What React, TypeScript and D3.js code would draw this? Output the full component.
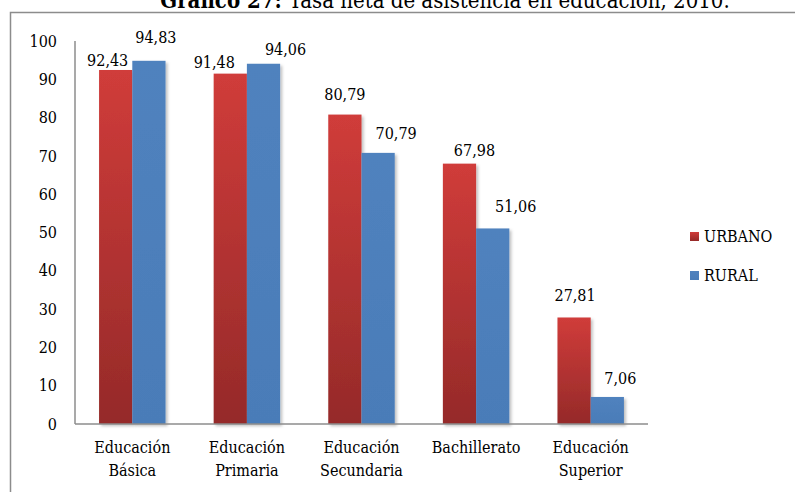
import { useEffect, useRef } from "react";
import * as d3 from "d3";

const categories = [
  "Educación Básica",
  "Educación Primaria",
  "Educación Secundaria",
  "Bachillerato",
  "Educación Superior",
];
const urbano = [92.43, 91.48, 80.79, 67.98, 27.81];
const rural = [94.83, 94.06, 70.79, 51.06, 7.06];
const seriesNames = ["URBANO", "RURAL"];
const yTicks = [0, 10, 20, 30, 40, 50, 60, 70, 80, 90, 100];

// hand-placed label nudges as in the source chart: [dx from bar centre, px above bar top]
const urbanoLabelNudge = [[-8, 4], [-16, 6], [0, 15], [15, 8], [1, 16]];
const ruralLabelNudge = [[7, 18], [22, 9], [18, 14], [23, 16], [13, 13]];

const FONT = "'DejaVu Serif Condensed', 'DejaVu Serif', serif";

const App = () => {
  const svgRef = useRef<SVGSVGElement>(null);

  useEffect(() => {
    if (!svgRef.current) return;
    const svg = d3.select(svgRef.current);
    svg.selectAll("*").remove();

    const width = 795;
    const height = 492;
    const margin = { top: 41, left: 75, right: 147, bottom: 68 };

    const defs = svg.append("defs");
    const redGrad = defs
      .append("linearGradient")
      .attr("id", "gradRed")
      .attr("x1", 0)
      .attr("y1", 0)
      .attr("x2", 0)
      .attr("y2", 1);
    redGrad.append("stop").attr("offset", "0%").attr("stop-color", "#d03c3a");
    redGrad.append("stop").attr("offset", "100%").attr("stop-color", "#952a29");
    const blueGrad = defs
      .append("linearGradient")
      .attr("id", "gradBlue")
      .attr("x1", 0)
      .attr("y1", 0)
      .attr("x2", 0)
      .attr("y2", 1);
    blueGrad.append("stop").attr("offset", "0%").attr("stop-color", "#5082be");
    blueGrad.append("stop").attr("offset", "100%").attr("stop-color", "#4a7cb8");
    const shadow = defs
      .append("filter")
      .attr("id", "shadow")
      .attr("x", "-20%")
      .attr("y", "-5%")
      .attr("width", "150%")
      .attr("height", "120%");
    shadow
      .append("feDropShadow")
      .attr("dx", 2)
      .attr("dy", 2)
      .attr("stdDeviation", 1.5)
      .attr("flood-color", "#000")
      .attr("flood-opacity", 0.25);

    // outer frame
    svg
      .append("rect")
      .attr("x", 10.5)
      .attr("y", 12.5)
      .attr("width", 800)
      .attr("height", 500)
      .attr("fill", "#fff")
      .attr("stroke", "#8c8c8c")
      .attr("stroke-width", 1.5);

    // title (partly cut at top, as in the source)
    const title = svg
      .append("text")
      .attr("x", 445)
      .attr("y", 8)
      .attr("text-anchor", "middle")
      .attr("font-family", FONT)
      .attr("font-size", 22)
      .attr("fill", "#000");
    title.append("tspan").attr("font-weight", "bold").text("Gráfico 27: ");
    title.append("tspan").text("Tasa neta de asistencia en educación, 2010.");

    const x0 = d3
      .scaleBand()
      .domain(categories)
      .range([margin.left, width - margin.right])
      .paddingInner(0.42)
      .paddingOuter(0.21);
    const x1 = d3.scaleBand().domain(seriesNames).range([0, x0.bandwidth()]);
    const y = d3
      .scaleLinear()
      .domain([0, 100])
      .range([height - margin.bottom, margin.top]);

    // y labels
    svg
      .append("g")
      .selectAll("text")
      .data(yTicks)
      .join("text")
      .attr("x", 57)
      .attr("y", (d) => y(d))
      .attr("dy", "0.35em")
      .attr("text-anchor", "end")
      .attr("font-family", FONT)
      .attr("font-size", 16)
      .text((d) => d);

    const rows = categories.map((c, i) => ({
      key: c,
      values: [urbano[i], rural[i]],
      nudges: [urbanoLabelNudge[i], ruralLabelNudge[i]],
    }));
    const fills = ["url(#gradRed)", "url(#gradBlue)"];

    const groups = svg
      .append("g")
      .selectAll("g")
      .data(rows)
      .join("g")
      .attr("transform", (d) => `translate(${x0(d.key)},0)`);

    groups
      .selectAll("rect")
      .data((d) => d.values.map((v, j) => ({ name: seriesNames[j], v, j })))
      .join("rect")
      .attr("x", (d) => x1(d.name)!)
      .attr("y", (d) => y(d.v))
      .attr("width", x1.bandwidth())
      .attr("height", (d) => y(0) - y(d.v))
      .attr("fill", (d) => fills[d.j])
      .attr("filter", "url(#shadow)");

    groups
      .selectAll("text.val")
      .data((d) =>
        d.values.map((v, j) => ({ name: seriesNames[j], v, j, n: d.nudges[j] }))
      )
      .join("text")
      .attr("class", "val")
      .attr("x", (d) => x1(d.name)! + x1.bandwidth() / 2 + d.n[0])
      .attr("y", (d) => y(d.v) - d.n[1])
      .attr("text-anchor", "middle")
      .attr("font-family", FONT)
      .attr("font-size", 16)
      .text((d) => d3.format(".2f")(d.v).replace(".", ","));

    // axes lines
    svg
      .append("line")
      .attr("x1", margin.left)
      .attr("x2", margin.left)
      .attr("y1", margin.top)
      .attr("y2", y(0))
      .attr("stroke", "#8c8c8c")
      .attr("stroke-width", 1.5);
    svg
      .append("line")
      .attr("x1", margin.left)
      .attr("x2", width - margin.right)
      .attr("y1", y(0))
      .attr("y2", y(0))
      .attr("stroke", "#8c8c8c")
      .attr("stroke-width", 1.5);

    // x labels, one word per line
    const xl = svg
      .append("g")
      .selectAll("text")
      .data(categories)
      .join("text")
      .attr("x", (d) => x0(d)! + x0.bandwidth() / 2)
      .attr("y", 453)
      .attr("text-anchor", "middle")
      .attr("font-family", FONT)
      .attr("font-size", 16);
    xl.each(function (d) {
      const words = d.split(" ");
      const t = d3.select(this);
      words.forEach((w, i) => {
        t.append("tspan")
          .attr("x", x0(d)! + x0.bandwidth() / 2)
          .attr("dy", i === 0 ? 0 : 23)
          .text(w);
      });
    });

    // legend
    const legend = svg
      .append("g")
      .selectAll("g")
      .data(seriesNames)
      .join("g")
      .attr("transform", (_, i) => `translate(690,${232 + i * 39})`);
    legend
      .append("rect")
      .attr("width", 9)
      .attr("height", 9)
      .attr("fill", (_, i) => fills[i]);
    legend
      .append("text")
      .attr("x", 14)
      .attr("y", 10)
      .attr("font-family", FONT)
      .attr("font-size", 16)
      .text((d) => d);
  }, []);

  return (
    <svg
      ref={svgRef}
      width={795}
      height={492}
      style={{ position: "absolute", left: 0, top: 0, background: "#fff" }}
    ></svg>
  );
};

export default App;
